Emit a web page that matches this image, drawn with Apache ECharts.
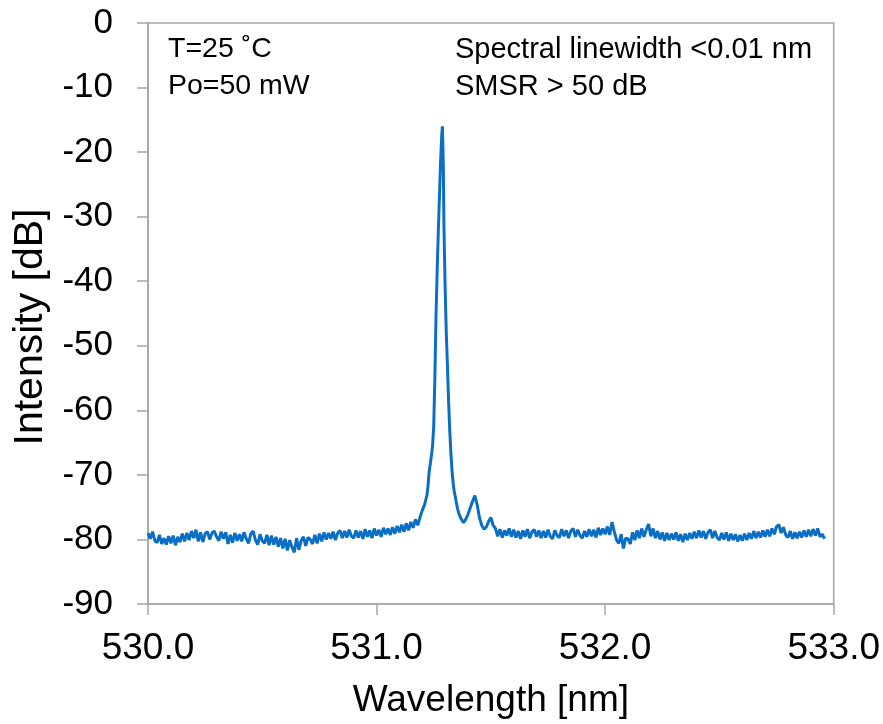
<!DOCTYPE html>
<html>
<head>
<meta charset="utf-8">
<script src="https://cdn.jsdelivr.net/npm/echarts@6/dist/echarts.min.js"></script>
<style>html,body{margin:0;padding:0;background:#fff}#c{width:883px;height:724px}</style>
</head>
<body>
<div id="c"></div>
<script>
// Tick labels
const xTicks = [530.0, 531.0, 532.0, 533.0];
const yTicks = [0, -10, -20, -30, -40, -50, -60, -70, -80, -90];

// Left noise floor
const leftWl = [
530.00,530.01,530.02,530.03,530.04,530.05,530.06,530.07,530.08,530.09,
530.10,530.11,530.12,530.13,530.14,530.15,530.16,530.17,530.18,530.19,
530.20,530.21,530.22,530.23,530.24,530.25,530.26,530.27,530.28,530.29,
530.30,530.31,530.32,530.33,530.34,530.35,530.36,530.37,530.38,530.39,
530.40,530.41,530.42,530.43,530.44,530.45,530.46,530.47,530.48,530.49,
530.50,530.51,530.52,530.53,530.54,530.55,530.56,530.57,530.58,530.59,
530.60,530.61,530.62,530.63,530.64,530.65,530.66,530.67,530.68,530.69,
530.70,530.71,530.72,530.73,530.74,530.75,530.76,530.77,530.78,530.79,
530.80,530.81,530.82,530.83,530.84,530.85,530.86,530.87,530.88,530.89,
530.90,530.91,530.92,530.93,530.94,530.95,530.96,530.97,530.98,530.99,
531.00,531.01,531.02,531.03,531.04,531.05,531.06,531.07,531.08,531.09,
531.10,531.11,531.12,531.13,531.14,531.15,531.16,531.17,531.18,531.19
];
const leftDb = [
-79.0,-79.9,-78.8,-80.2,-80.5,-79.3,-80.7,-79.8,-80.8,-79.5,
-80.6,-79.4,-80.9,-79.6,-80.4,-79.1,-80.3,-79.0,-80.1,-78.7,
-79.8,-78.5,-80.3,-78.9,-80.4,-79.1,-78.8,-80.0,-79.0,-78.7,
-79.6,-80.2,-78.8,-79.9,-78.9,-80.7,-79.3,-80.5,-79.0,-80.2,
-79.2,-80.3,-78.9,-79.9,-80.6,-79.1,-78.7,-80.1,-80.8,-79.2,
-80.2,-80.6,-79.3,-80.9,-79.4,-80.8,-79.6,-81.1,-79.8,-81.4,
-79.9,-81.7,-80.1,-81.2,-82.0,-79.8,-81.6,-80.2,-79.6,-81.0,
-79.7,-80.0,-80.7,-79.3,-80.6,-79.1,-80.3,-78.9,-80.0,-79.0,
-79.9,-78.8,-80.1,-79.0,-78.6,-79.8,-78.7,-79.7,-78.5,-79.5,
-79.8,-78.6,-79.7,-78.7,-79.9,-78.4,-79.6,-78.6,-79.8,-78.3,
-79.4,-78.5,-79.6,-78.2,-79.2,-78.3,-79.3,-78.1,-79.1,-77.9,
-78.9,-77.7,-78.8,-77.5,-78.6,-77.3,-78.2,-76.9,-77.8,-76.6
];

// Lasing peak and side bump
const peakWl = [
531.200,531.210,531.220,531.225,531.230,531.235,531.240,531.245,531.250,531.255,
531.260,531.265,531.270,531.275,531.280,531.285,531.288,531.292,531.295,531.300,
531.305,531.310,531.315,531.320,531.325,531.330,531.335,531.340,531.345,531.350,
531.355,531.360,531.370,531.380,531.390,531.400,531.410,531.420,531.430,531.440,
531.450,531.460,531.470,531.480,531.490,531.500,531.510
];
const peakDb = [
-75.5,-74.6,-73.2,-71.8,-69.5,-68.3,-67.0,-65.5,-62.5,-55.0,
-45.5,-38.5,-32.5,-27.0,-21.5,-17.5,-16.0,-22.0,-32.0,-41.0,
-48.0,-53.0,-58.5,-63.0,-66.5,-69.3,-71.3,-72.6,-73.5,-74.5,
-75.3,-76.0,-76.8,-77.4,-76.9,-76.1,-75.1,-74.1,-73.2,-74.6,
-76.6,-77.8,-78.4,-78.1,-77.2,-76.6,-77.8
];

// Right noise floor
const rightWl = [
531.52,531.53,531.54,531.55,531.56,531.57,531.58,531.59,
531.60,531.61,531.62,531.63,531.64,531.65,531.66,531.67,531.68,531.69,
531.70,531.71,531.72,531.73,531.74,531.75,531.76,531.77,531.78,531.79,
531.80,531.81,531.82,531.83,531.84,531.85,531.86,531.87,531.88,531.89,
531.90,531.91,531.92,531.93,531.94,531.95,531.96,531.97,531.98,531.99,
532.00,532.01,532.02,532.03,532.04,532.05,532.06,532.07,532.08,532.09,
532.10,532.11,532.12,532.13,532.14,532.15,532.16,532.17,532.18,532.19,
532.20,532.21,532.22,532.23,532.24,532.25,532.26,532.27,532.28,532.29,
532.30,532.31,532.32,532.33,532.34,532.35,532.36,532.37,532.38,532.39,
532.40,532.41,532.42,532.43,532.44,532.45,532.46,532.47,532.48,532.49,
532.50,532.51,532.52,532.53,532.54,532.55,532.56,532.57,532.58,532.59,
532.60,532.61,532.62,532.63,532.64,532.65,532.66,532.67,532.68,532.69,
532.70,532.71,532.72,532.73,532.74,532.75,532.76,532.77,532.78,532.79,
532.80,532.81,532.82,532.83,532.84,532.85,532.86,532.87,532.88,532.89,
532.90,532.91,532.92,532.93,532.94,532.95,532.96
];
const rightDb = [
-78.3,-79.5,-78.4,-79.7,-78.6,-79.4,-78.3,-79.6,
-78.5,-79.7,-78.7,-79.9,-78.6,-79.6,-78.4,-79.8,-78.8,-78.5,
-79.6,-78.6,-79.8,-78.7,-79.7,-78.5,-79.5,-79.9,-78.6,-79.4,
-79.7,-78.4,-79.5,-78.6,-79.8,-78.7,-78.3,-79.6,-78.5,-79.4,
-79.8,-78.7,-79.6,-78.4,-79.5,-78.5,-79.7,-78.2,-79.3,-78.3,
-79.2,-78.0,-79.3,-77.3,-78.8,-80.1,-80.6,-79.2,-81.4,-79.8,
-79.9,-80.7,-78.9,-80.1,-78.6,-79.8,-78.3,-79.6,-78.5,-77.6,
-79.5,-78.3,-79.8,-78.7,-80.0,-78.9,-80.2,-79.0,-80.1,-79.1,
-80.0,-78.9,-80.2,-79.2,-80.4,-79.1,-80.1,-79.0,-79.9,-78.8,
-79.8,-78.6,-79.7,-78.7,-79.9,-78.9,-78.5,-79.8,-78.7,-79.7,
-80.1,-79.0,-80.0,-78.9,-80.2,-79.1,-80.1,-79.2,-80.3,-79.3,
-80.2,-79.1,-80.1,-79.0,-79.9,-78.7,-79.8,-78.8,-79.7,-78.6,
-79.6,-78.5,-79.5,-78.3,-79.2,-78.0,-77.7,-79.0,-78.1,-79.3,
-79.7,-78.7,-79.9,-78.9,-79.8,-78.8,-79.7,-78.6,-79.6,-78.5,
-79.5,-78.4,-79.4,-78.3,-79.6,-79.2,-79.9
];

const annotLeft = 'T=25 ˚C\nPo=50 mW';
const annotRight = 'Spectral linewidth <0.01 nm\nSMSR > 50 dB';
const yName = 'Intensity [dB]';

const wl = leftWl.concat(peakWl, rightWl);
const db = leftDb.concat(peakDb, rightDb);
const data = wl.map((w, i) => [w, db[i]]);

const FONT = '"Liberation Sans", Arial, sans-serif';
const chart = echarts.init(document.getElementById('c'), null, {renderer: 'canvas'});
chart.setOption({
  animation: false,
  backgroundColor: '#ffffff',
  grid: {left: 148, right: 43, top: 23, bottom: 120, show: true, borderColor: '#a6a6a6', borderWidth: 1.5, backgroundColor: 'transparent'},
  xAxis: {
    type: 'value', min: xTicks[0], max: xTicks[xTicks.length - 1], interval: 1,
    name: 'Wavelength [nm]', nameLocation: 'middle', nameGap: 78,
    nameTextStyle: {fontFamily: FONT, fontSize: 37, color: '#000'},
    axisLine: {show: true, onZero: false, lineStyle: {color: '#a6a6a6', width: 1.5}},
    axisTick: {show: true, inside: false, length: 11, lineStyle: {color: '#a6a6a6', width: 1.5}},
    axisLabel: {margin: 26, fontFamily: FONT, fontSize: 37, color: '#000', formatter: v => v.toFixed(1)},
    splitLine: {show: false}
  },
  yAxis: {
    type: 'value', min: yTicks[yTicks.length - 1], max: yTicks[0], interval: 10,
    axisLine: {show: true, onZero: false, lineStyle: {color: '#a6a6a6', width: 1.5}},
    axisTick: {show: true, inside: false, length: 11, lineStyle: {color: '#a6a6a6', width: 1.5}},
    axisLabel: {margin: 35, fontFamily: FONT, fontSize: 35, color: '#000'},
    splitLine: {show: false}
  },
  series: [{
    type: 'line', data: data, showSymbol: false, symbol: 'none',
    lineStyle: {color: '#0a6fc4', width: 3}, z: 3
  }],
  graphic: [
    {type: 'text', left: 168, top: 31, style: {text: annotLeft, font: '28.5px ' + FONT, fill: '#000', lineHeight: 37}},
    {type: 'text', left: 455, top: 31, style: {text: annotRight, font: '29px ' + FONT, fill: '#000', lineHeight: 37}},
    {type: 'text', x: 31, y: 327, rotation: Math.PI / 2,
     style: {text: yName, font: '41px ' + FONT, fill: '#000', textAlign: 'center', textVerticalAlign: 'middle'}}
  ]
});
</script>
</body>
</html>
